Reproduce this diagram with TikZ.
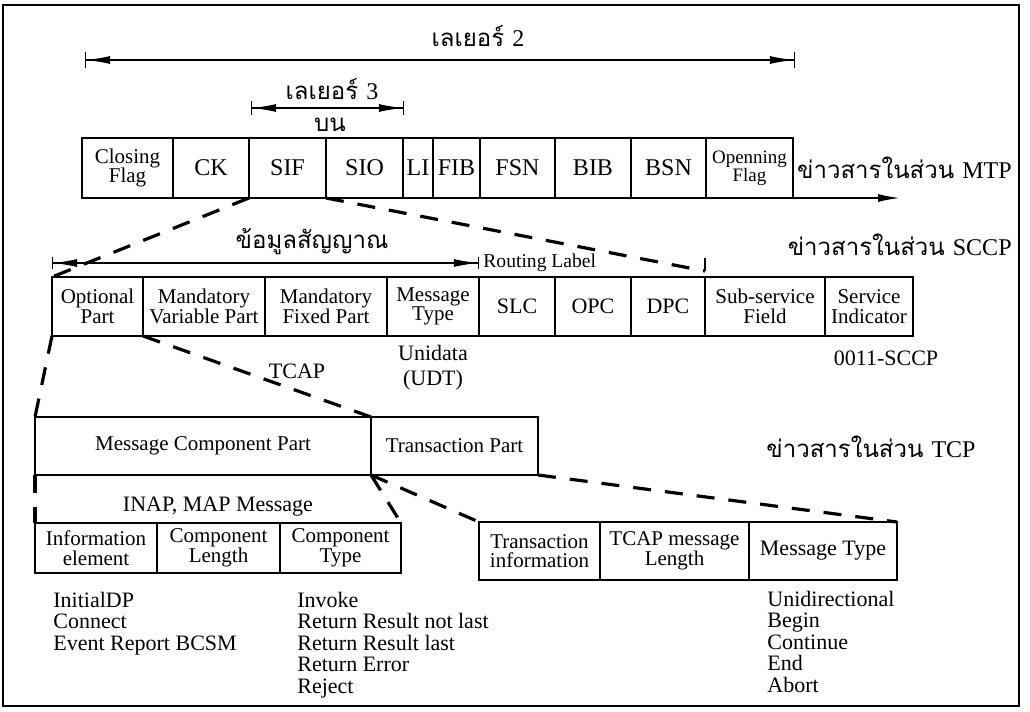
\documentclass[tikz,border=0pt]{standalone}
\usepackage{fontspec}
\setmainfont{Liberation Serif}
\newfontfamily\thaifont[Script=Thai]{Loma}
\usetikzlibrary{positioning,arrows.meta}

\tikzset{
  field/.style={draw, line width=0.85pt, outer sep=0pt, inner sep=1pt, align=center,
    font=\fontsize{10.5}{9.8}\selectfont},
  bigtext/.style={font=\fontsize{12}{14}\selectfont},
  smalltext/.style={font=\fontsize{9.5}{9}\selectfont},
  celltext/.style={font=\fontsize{11}{10}\selectfont},
  zoomline/.style={line width=1.6pt, dash pattern=on 9pt off 7pt},
  span/.style={line width=0.6pt,
    {Bar[width=8pt]Latex[length=12pt,width=4pt]}-{Latex[length=12pt,width=4pt]Bar[width=8pt]}},
  thai/.style={font=\thaifont\fontsize{12}{14}\selectfont, inner sep=0pt},
  label/.style={font=\fontsize{11}{12.5}\selectfont, inner sep=0pt, align=center},
  note/.style={font=\fontsize{11}{10.75}\selectfont, align=left, anchor=base west, inner sep=0pt}
}

\begin{document}
\begin{tikzpicture}[x=0.5pt,y=-0.5pt]
  \useasboundingbox (0,0) rectangle (1030,712);
  \draw[line width=1pt] (3,5) rectangle (1019,706);

  %% MTP row
  \node[field, minimum width=45.5pt, minimum height=30pt, anchor=north west] (cflag) at (82,138) {Closing\\Flag};
  \node[field, bigtext, minimum width=38pt, minimum height=30pt, right=0pt of cflag] (ck) {CK};
  \node[field, bigtext, minimum width=38.5pt, minimum height=30pt, right=0pt of ck] (sif) {SIF};
  \node[field, bigtext, minimum width=38.5pt, minimum height=30pt, right=0pt of sif] (sio) {SIO};
  \node[field, bigtext, minimum width=15pt, minimum height=30pt, inner sep=0pt, right=0pt of sio] (li) {LI};
  \node[field, bigtext, minimum width=23.5pt, minimum height=30pt, inner sep=0pt, right=0pt of li] (fib) {FIB};
  \node[field, bigtext, minimum width=37.5pt, minimum height=30pt, right=0pt of fib] (fsn) {FSN};
  \node[field, bigtext, minimum width=38pt, minimum height=30pt, right=0pt of fsn] (bib) {BIB};
  \node[field, bigtext, minimum width=37.5pt, minimum height=30pt, right=0pt of bib] (bsn) {BSN};
  \node[field, smalltext, minimum width=43.5pt, minimum height=30pt, right=0pt of bsn] (oflag) {Openning\\Flag};
  \coordinate (mtpend) at (900,198);
  \draw[line width=0.85pt, -{Latex[length=11pt,width=4pt]}] (oflag.south east) -- (mtpend);
  \node[thai, anchor=east] (mtp) at (1012,168) {ข่าวสารในส่วน \fontspec{Liberation Serif}MTP};

  %% layer spans
  \coordinate (l2a) at (85,60);
  \coordinate (l2b) at (795,60);
  \draw[span] (l2a) -- (l2b);
  \node[thai] (l2) at (478,36) {เลเยอร์ \fontspec{Liberation Serif}2};
  \coordinate (l3a) at (251,108);
  \coordinate (l3b) at (404,108);
  \draw[span, {Bar[width=7pt]Latex[length=12pt,width=4pt]}-{Latex[length=12pt,width=4pt]Bar[width=7pt]}] (l3a) -- (l3b);
  \node[thai] (l3) at (332,89) {เลเยอร์ \fontspec{Liberation Serif}3};
  \node[thai] (upper) at (330,125) {บน};

  %% SCCP row
  \node[field, minimum width=45.5pt, minimum height=29.5pt, anchor=north west] (opt) at (52,277) {Optional\\Part};
  \node[field, minimum width=61pt, minimum height=29.5pt, right=0pt of opt] (mvp) {Mandatory\\Variable Part};
  \node[field, minimum width=61pt, minimum height=29.5pt, right=0pt of mvp] (mfp) {Mandatory\\Fixed Part};
  \node[field, minimum width=46pt, minimum height=29.5pt, right=0pt of mfp] (mtype) {Message\\Type};
  \node[field, celltext, minimum width=38pt, minimum height=29.5pt, right=0pt of mtype] (slc) {SLC};
  \node[field, celltext, minimum width=38pt, minimum height=29.5pt, right=0pt of slc] (opc) {OPC};
  \node[field, celltext, minimum width=37pt, minimum height=29.5pt, right=0pt of opc] (dpc) {DPC};
  \node[field, minimum width=60pt, minimum height=29.5pt, right=0pt of dpc] (ssf) {Sub-service\\Field};
  \node[field, minimum width=44pt, minimum height=29.5pt, right=0pt of ssf] (si) {Service\\Indicator};
  \node[thai, anchor=east] (sccp) at (1012,245) {ข่าวสารในส่วน \fontspec{Liberation Serif}SCCP};

  %% signal info span and routing label
  \coordinate (sga) at (52,263);
  \coordinate (sgb) at (479,263);
  \draw[span, {Bar[width=6pt]Latex[length=12pt,width=4pt]}-{Latex[length=12pt,width=4pt]Bar[width=6pt]}] (sga) -- (sgb);
  \node[thai] (sig) at (312,242) {ข้อมูลสัญญาณ};
  \node[font=\fontsize{9.8}{11}\selectfont, inner sep=0pt, anchor=west] (rl) at (483,263) {Routing Label};
  \coordinate (rltop) at (705,258);
  \coordinate (rlend) at (705,271);
  \draw[line width=0.85pt] (rltop) -- (rlend);

  \node[label] (udt) at (433,368) {Unidata\\(UDT)};
  \node[label] (tcap) at (297,371) {TCAP};
  \node[label] (code) at (886,358) {0011-SCCP};

  %% TCAP row
  \node[field, minimum width=168pt, minimum height=29pt, anchor=north west] (mcp) at (35,417) {Message Component Part};
  \node[field, minimum width=83.5pt, minimum height=29pt, right=0pt of mcp] (tp) {Transaction Part};
  \node[thai] (tcp) at (871,447) {ข่าวสารในส่วน \fontspec{Liberation Serif}TCP};

  %% INAP row
  \node[label] (inap) at (218,507) {INAP, MAP Message};
  \node[field, minimum width=61pt, minimum height=25pt, anchor=north west] (ie) at (35,523) {Information\\element};
  \node[field, minimum width=61.5pt, minimum height=25pt, right=0pt of ie] (clen) {Component\\Length};
  \node[field, minimum width=60.5pt, minimum height=25pt, right=0pt of clen] (ctype) {Component\\Type};

  %% transaction row
  \node[field, minimum width=60.5pt, minimum height=29pt, anchor=north west] (tinfo) at (479,522) {Transaction\\information};
  \node[field, minimum width=74.5pt, minimum height=29pt, right=0pt of tinfo] (tlen) {TCAP message\\Length};
  \node[field, celltext, minimum width=74pt, minimum height=29pt, right=0pt of tlen] (tmtype) {Message Type};

  %% zoom lines
  \draw[zoomline] (sif.south west) -- (opt.north west);
  \draw[zoomline] (sio.south west) -- (rlend);
  \draw[zoomline] (opt.south west) -- (mcp.north west);
  \draw[zoomline] (opt.south east) -- (mcp.north east);
  \draw[zoomline] (mcp.south west) -- (ie.north west);
  \draw[zoomline] (mcp.south east) -- (ctype.north east);
  \draw[zoomline] (mcp.south east) -- (tinfo.north west);
  \draw[zoomline] (tp.south east) -- (tmtype.north east);

  %% value lists (base = last line)
  \node[note] (ielist) at (53,650) {InitialDP\\Connect\\Event Report BCSM};
  \node[note] (ctlist) at (297,693) {Invoke\\Return Result not last\\Return Result last\\Return Error\\Reject};
  \node[note] (mtlist) at (767,692) {Unidirectional\\Begin\\Continue\\End\\Abort};
\end{tikzpicture}
\end{document}
